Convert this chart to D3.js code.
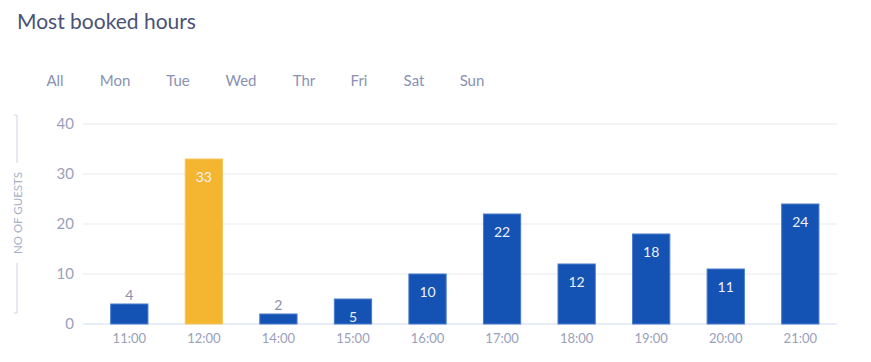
<!DOCTYPE html>
<html>
<head>
<meta charset="utf-8">
<script src="https://cdn.jsdelivr.net/npm/d3@7"></script>
<style>
  body { margin: 0; background: #fff; }
  text { font-family: Lato, 'Open Sans', sans-serif; }
</style>
</head>
<body>
<script>
// data
const hours = ['11:00', '12:00', '14:00', '15:00', '16:00', '17:00', '18:00', '19:00', '20:00', '21:00']
const guests = [4, 33, 2, 5, 10, 22, 12, 18, 11, 24]
const days = ['All', 'Mon', 'Tue', 'Wed', 'Thr', 'Fri', 'Sat', 'Sun']
const dayX = [55, 115, 178, 241, 304, 359, 414, 472]
const yTicks = [0, 10, 20, 30, 40]
const highlight = '12:00'

const W = 871, H = 362

const svg = d3.select('body')
  .append('svg')
  .attr('width', W)
  .attr('height', H)

// 标题
svg.append('text')
  .attr('x', 17)
  .attr('y', 29)
  .attr('font-size', 21)
  .attr('fill', '#4a5277')
  .text('Most booked hours')

// 星期
svg.append('g')
  .selectAll('text')
  .data(days)
  .join('text')
  .attr('x', (d, i) => dayX[i])
  .attr('y', 86)
  .attr('text-anchor', 'middle')
  .attr('font-size', 15)
  .attr('fill', '#8a91b4')
  .text(d => d)

const xScale = d3.scaleBand()
  .domain(hours)
  .range([88.3, 841.3])
  .paddingInner(0.5)
  .paddingOuter(0.3)

const yScale = d3.scaleLinear()
  .domain([0, 40])
  .range([324, 124])

// 网格线
svg.append('g')
  .selectAll('line')
  .data(yTicks)
  .join('line')
  .attr('x1', 83)
  .attr('x2', 837)
  .attr('y1', d => yScale(d))
  .attr('y2', d => yScale(d))
  .attr('stroke', d => d === 0 ? '#e2e7f4' : '#eef0f3')
  .attr('stroke-width', 1.5)

// y轴
const yAxis = svg.append('g')
  .attr('transform', 'translate(74,0)')
  .call(d3.axisLeft(yScale).tickValues(yTicks).tickSize(0).tickPadding(0))
yAxis.select('.domain').remove()
yAxis.selectAll('text')
  .attr('font-size', 15)
  .attr('font-family', 'Lato, sans-serif')
  .attr('fill', '#9aa0bb')

// x轴
const xAxis = svg.append('g')
  .attr('transform', 'translate(0,334)')
  .call(d3.axisBottom(xScale).tickSize(0).tickPadding(0))
xAxis.select('.domain').remove()
xAxis.selectAll('text')
  .attr('font-size', 13)
  .attr('font-family', 'Lato, sans-serif')
  .attr('fill', '#9aa0bb')

// y轴标题
const ty = 213
svg.append('text')
  .attr('transform', `translate(21.5,${ty}) rotate(-90)`)
  .attr('text-anchor', 'middle')
  .attr('font-size', 11.5)
  .attr('fill', '#a9afc9')
  .text('NO OF GUESTS')
svg.append('path')
  .attr('d', `M14,115 H17 V163 M17,263 V313 H14`)
  .attr('fill', 'none')
  .attr('stroke', '#cfd4e6')
  .attr('stroke-width', 1)

// 柱子
svg.append('g')
  .selectAll('rect')
  .data(hours)
  .join('rect')
  .attr('x', d => xScale(d))
  .attr('width', xScale.bandwidth())
  .attr('y', (d, i) => yScale(guests[i]))
  .attr('height', (d, i) => yScale(0) - yScale(guests[i]))
  .attr('fill', d => d === highlight ? '#f4b530' : '#1452b3')
  .attr('stroke', d => d === highlight ? '#f7c65e' : '#4a7ccc')
  .attr('stroke-width', 1)

// 数值
svg.append('g')
  .selectAll('text')
  .data(hours)
  .join('text')
  .attr('x', d => xScale(d) + xScale.bandwidth() / 2)
  .attr('y', (d, i) => guests[i] >= 5 ? yScale(guests[i]) + 23 : yScale(guests[i]) - 4)
  .attr('text-anchor', 'middle')
  .attr('font-size', 14)
  .attr('fill', (d, i) => guests[i] >= 5 ? '#eef1fa' : '#8a90ad')
  .text((d, i) => guests[i])
</script>
</body>
</html>
